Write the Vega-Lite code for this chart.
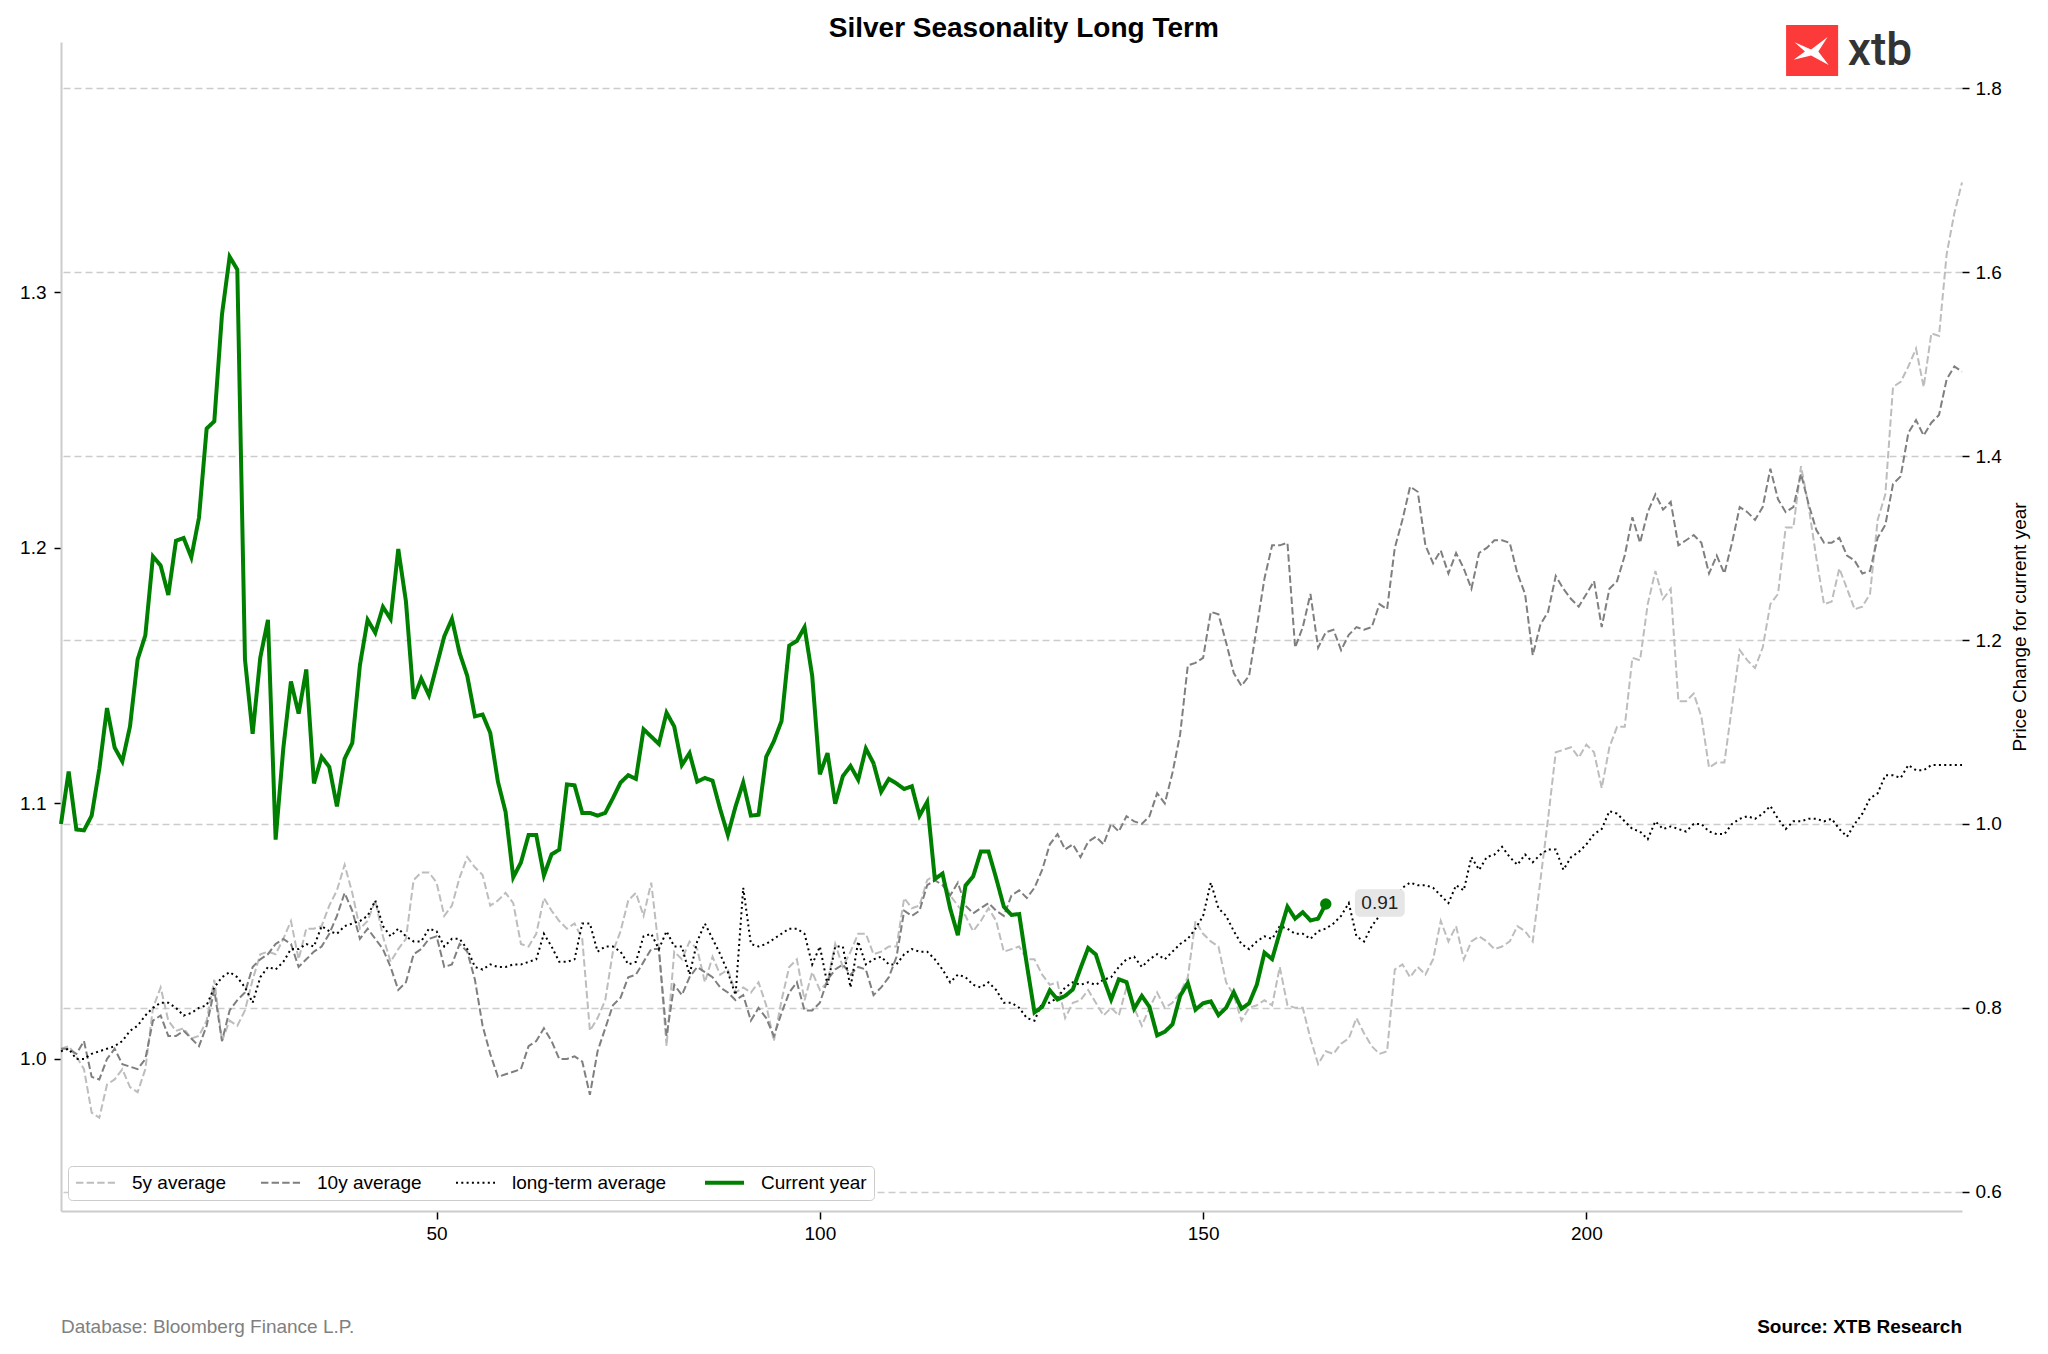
{
  "$schema": "https://vega.github.io/schema/vega-lite/v6.json",
  "width": 1901,
  "height": 1169,
  "autosize": "none",
  "padding": {"left": 61, "top": 42, "right": 86, "bottom": 143},
  "background": "white",
  "config": {
    "font": "Liberation Sans",
    "view": {"stroke": null},
    "axis": {
      "labelFont": "Liberation Sans", "labelFontSize": 19, "labelColor": "black",
      "tickColor": "black", "tickSize": 7, "tickWidth": 1.5,
      "domainColor": "#cccccc", "domainWidth": 2, "grid": false,
      "titleFont": "Liberation Sans", "titleFontSize": 19, "titleFontWeight": "normal", "titleColor": "black"
    }
  },
  "datasets": {
    "avg": [
      {"d":1,"5y average":1.004,"10y average":1.004,"long-term average":1.003},
      {"d":2,"5y average":1.005,"10y average":1.004,"long-term average":1.004},
      {"d":3,"5y average":1.001,"10y average":1.002,"long-term average":1.000},
      {"d":4,"5y average":0.996,"10y average":1.007,"long-term average":1.000},
      {"d":5,"5y average":0.979,"10y average":0.993,"long-term average":1.002},
      {"d":6,"5y average":0.977,"10y average":0.992,"long-term average":1.003},
      {"d":7,"5y average":0.990,"10y average":1.000,"long-term average":1.004},
      {"d":8,"5y average":0.992,"10y average":1.004,"long-term average":1.005},
      {"d":9,"5y average":0.996,"10y average":0.998,"long-term average":1.007},
      {"d":10,"5y average":0.989,"10y average":0.997,"long-term average":1.011},
      {"d":11,"5y average":0.987,"10y average":0.996,"long-term average":1.013},
      {"d":12,"5y average":0.996,"10y average":1.000,"long-term average":1.017},
      {"d":13,"5y average":1.020,"10y average":1.015,"long-term average":1.020},
      {"d":14,"5y average":1.028,"10y average":1.017,"long-term average":1.022},
      {"d":15,"5y average":1.015,"10y average":1.009,"long-term average":1.022},
      {"d":16,"5y average":1.011,"10y average":1.009,"long-term average":1.020},
      {"d":17,"5y average":1.012,"10y average":1.011,"long-term average":1.017},
      {"d":18,"5y average":1.008,"10y average":1.008,"long-term average":1.018},
      {"d":19,"5y average":1.009,"10y average":1.005,"long-term average":1.020},
      {"d":20,"5y average":1.015,"10y average":1.013,"long-term average":1.021},
      {"d":21,"5y average":1.031,"10y average":1.027,"long-term average":1.028},
      {"d":22,"5y average":1.007,"10y average":1.007,"long-term average":1.032},
      {"d":23,"5y average":1.015,"10y average":1.019,"long-term average":1.034},
      {"d":24,"5y average":1.013,"10y average":1.023,"long-term average":1.032},
      {"d":25,"5y average":1.019,"10y average":1.026,"long-term average":1.028},
      {"d":26,"5y average":1.031,"10y average":1.036,"long-term average":1.022},
      {"d":27,"5y average":1.041,"10y average":1.039,"long-term average":1.032},
      {"d":28,"5y average":1.042,"10y average":1.041,"long-term average":1.036},
      {"d":29,"5y average":1.041,"10y average":1.045,"long-term average":1.035},
      {"d":30,"5y average":1.047,"10y average":1.047,"long-term average":1.038},
      {"d":31,"5y average":1.054,"10y average":1.045,"long-term average":1.043},
      {"d":32,"5y average":1.039,"10y average":1.036,"long-term average":1.043},
      {"d":33,"5y average":1.051,"10y average":1.039,"long-term average":1.045},
      {"d":34,"5y average":1.051,"10y average":1.042,"long-term average":1.044},
      {"d":35,"5y average":1.052,"10y average":1.044,"long-term average":1.052},
      {"d":36,"5y average":1.060,"10y average":1.049,"long-term average":1.050},
      {"d":37,"5y average":1.066,"10y average":1.056,"long-term average":1.049},
      {"d":38,"5y average":1.076,"10y average":1.065,"long-term average":1.052},
      {"d":39,"5y average":1.065,"10y average":1.058,"long-term average":1.053},
      {"d":40,"5y average":1.051,"10y average":1.047,"long-term average":1.054},
      {"d":41,"5y average":1.054,"10y average":1.051,"long-term average":1.056},
      {"d":42,"5y average":1.062,"10y average":1.047,"long-term average":1.062},
      {"d":43,"5y average":1.048,"10y average":1.043,"long-term average":1.052},
      {"d":44,"5y average":1.038,"10y average":1.036,"long-term average":1.048},
      {"d":45,"5y average":1.043,"10y average":1.027,"long-term average":1.051},
      {"d":46,"5y average":1.047,"10y average":1.030,"long-term average":1.048},
      {"d":47,"5y average":1.070,"10y average":1.041,"long-term average":1.046},
      {"d":48,"5y average":1.073,"10y average":1.043,"long-term average":1.046},
      {"d":49,"5y average":1.073,"10y average":1.047,"long-term average":1.051},
      {"d":50,"5y average":1.069,"10y average":1.048,"long-term average":1.050},
      {"d":51,"5y average":1.056,"10y average":1.036,"long-term average":1.044},
      {"d":52,"5y average":1.060,"10y average":1.037,"long-term average":1.047},
      {"d":53,"5y average":1.071,"10y average":1.045,"long-term average":1.047},
      {"d":54,"5y average":1.079,"10y average":1.042,"long-term average":1.043},
      {"d":55,"5y average":1.075,"10y average":1.031,"long-term average":1.036},
      {"d":56,"5y average":1.072,"10y average":1.013,"long-term average":1.035},
      {"d":57,"5y average":1.060,"10y average":1.002,"long-term average":1.037},
      {"d":58,"5y average":1.062,"10y average":0.993,"long-term average":1.036},
      {"d":59,"5y average":1.065,"10y average":0.994,"long-term average":1.036},
      {"d":60,"5y average":1.061,"10y average":0.995,"long-term average":1.037},
      {"d":61,"5y average":1.045,"10y average":0.996,"long-term average":1.037},
      {"d":62,"5y average":1.044,"10y average":1.005,"long-term average":1.038},
      {"d":63,"5y average":1.049,"10y average":1.007,"long-term average":1.039},
      {"d":64,"5y average":1.063,"10y average":1.012,"long-term average":1.049},
      {"d":65,"5y average":1.058,"10y average":1.007,"long-term average":1.044},
      {"d":66,"5y average":1.054,"10y average":1.000,"long-term average":1.038},
      {"d":67,"5y average":1.051,"10y average":1.000,"long-term average":1.038},
      {"d":68,"5y average":1.053,"10y average":1.001,"long-term average":1.039},
      {"d":69,"5y average":1.047,"10y average":0.999,"long-term average":1.053},
      {"d":70,"5y average":1.011,"10y average":0.986,"long-term average":1.053},
      {"d":71,"5y average":1.016,"10y average":1.003,"long-term average":1.042},
      {"d":72,"5y average":1.023,"10y average":1.012,"long-term average":1.044},
      {"d":73,"5y average":1.042,"10y average":1.021,"long-term average":1.044},
      {"d":74,"5y average":1.050,"10y average":1.024,"long-term average":1.042},
      {"d":75,"5y average":1.062,"10y average":1.032,"long-term average":1.037},
      {"d":76,"5y average":1.065,"10y average":1.033,"long-term average":1.038},
      {"d":77,"5y average":1.056,"10y average":1.038,"long-term average":1.048},
      {"d":78,"5y average":1.069,"10y average":1.043,"long-term average":1.049},
      {"d":79,"5y average":1.043,"10y average":1.043,"long-term average":1.043},
      {"d":80,"5y average":1.005,"10y average":1.009,"long-term average":1.050},
      {"d":81,"5y average":1.042,"10y average":1.029,"long-term average":1.044},
      {"d":82,"5y average":1.039,"10y average":1.025,"long-term average":1.044},
      {"d":83,"5y average":1.046,"10y average":1.032,"long-term average":1.033},
      {"d":84,"5y average":1.043,"10y average":1.036,"long-term average":1.046},
      {"d":85,"5y average":1.030,"10y average":1.034,"long-term average":1.053},
      {"d":86,"5y average":1.040,"10y average":1.032,"long-term average":1.047},
      {"d":87,"5y average":1.033,"10y average":1.028,"long-term average":1.041},
      {"d":88,"5y average":1.035,"10y average":1.026,"long-term average":1.034},
      {"d":89,"5y average":1.026,"10y average":1.023,"long-term average":1.025},
      {"d":90,"5y average":1.028,"10y average":1.025,"long-term average":1.067},
      {"d":91,"5y average":1.026,"10y average":1.015,"long-term average":1.045},
      {"d":92,"5y average":1.030,"10y average":1.020,"long-term average":1.044},
      {"d":93,"5y average":1.021,"10y average":1.016,"long-term average":1.045},
      {"d":94,"5y average":1.007,"10y average":1.009,"long-term average":1.047},
      {"d":95,"5y average":1.023,"10y average":1.018,"long-term average":1.049},
      {"d":96,"5y average":1.036,"10y average":1.026,"long-term average":1.051},
      {"d":97,"5y average":1.039,"10y average":1.030,"long-term average":1.051},
      {"d":98,"5y average":1.023,"10y average":1.019,"long-term average":1.049},
      {"d":99,"5y average":1.034,"10y average":1.019,"long-term average":1.037},
      {"d":100,"5y average":1.027,"10y average":1.022,"long-term average":1.044},
      {"d":101,"5y average":1.030,"10y average":1.031,"long-term average":1.029},
      {"d":102,"5y average":1.045,"10y average":1.035,"long-term average":1.044},
      {"d":103,"5y average":1.036,"10y average":1.037,"long-term average":1.044},
      {"d":104,"5y average":1.042,"10y average":1.033,"long-term average":1.028},
      {"d":105,"5y average":1.049,"10y average":1.036,"long-term average":1.046},
      {"d":106,"5y average":1.049,"10y average":1.035,"long-term average":1.037},
      {"d":107,"5y average":1.041,"10y average":1.025,"long-term average":1.039},
      {"d":108,"5y average":1.042,"10y average":1.028,"long-term average":1.040},
      {"d":109,"5y average":1.044,"10y average":1.032,"long-term average":1.037},
      {"d":110,"5y average":1.044,"10y average":1.040,"long-term average":1.037},
      {"d":111,"5y average":1.063,"10y average":1.058,"long-term average":1.041},
      {"d":112,"5y average":1.059,"10y average":1.056,"long-term average":1.043},
      {"d":113,"5y average":1.060,"10y average":1.058,"long-term average":1.042},
      {"d":114,"5y average":1.070,"10y average":1.068,"long-term average":1.042},
      {"d":115,"5y average":1.072,"10y average":1.070,"long-term average":1.039},
      {"d":116,"5y average":1.071,"10y average":1.068,"long-term average":1.035},
      {"d":117,"5y average":1.064,"10y average":1.064,"long-term average":1.030},
      {"d":118,"5y average":1.060,"10y average":1.069,"long-term average":1.033},
      {"d":119,"5y average":1.056,"10y average":1.060,"long-term average":1.032},
      {"d":120,"5y average":1.050,"10y average":1.057,"long-term average":1.029},
      {"d":121,"5y average":1.054,"10y average":1.059,"long-term average":1.028},
      {"d":122,"5y average":1.059,"10y average":1.061,"long-term average":1.030},
      {"d":123,"5y average":1.054,"10y average":1.058,"long-term average":1.027},
      {"d":124,"5y average":1.042,"10y average":1.056,"long-term average":1.022},
      {"d":125,"5y average":1.043,"10y average":1.064,"long-term average":1.022},
      {"d":126,"5y average":1.044,"10y average":1.066,"long-term average":1.020},
      {"d":127,"5y average":1.039,"10y average":1.063,"long-term average":1.016},
      {"d":128,"5y average":1.039,"10y average":1.067,"long-term average":1.015},
      {"d":129,"5y average":1.033,"10y average":1.074,"long-term average":1.022},
      {"d":130,"5y average":1.029,"10y average":1.084,"long-term average":1.022},
      {"d":131,"5y average":1.030,"10y average":1.088,"long-term average":1.024},
      {"d":132,"5y average":1.016,"10y average":1.082,"long-term average":1.028},
      {"d":133,"5y average":1.022,"10y average":1.084,"long-term average":1.030},
      {"d":134,"5y average":1.023,"10y average":1.079,"long-term average":1.029},
      {"d":135,"5y average":1.027,"10y average":1.085,"long-term average":1.030},
      {"d":136,"5y average":1.022,"10y average":1.087,"long-term average":1.029},
      {"d":137,"5y average":1.017,"10y average":1.084,"long-term average":1.031},
      {"d":138,"5y average":1.020,"10y average":1.092,"long-term average":1.032},
      {"d":139,"5y average":1.017,"10y average":1.089,"long-term average":1.036},
      {"d":140,"5y average":1.028,"10y average":1.095,"long-term average":1.039},
      {"d":141,"5y average":1.020,"10y average":1.093,"long-term average":1.040},
      {"d":142,"5y average":1.013,"10y average":1.092,"long-term average":1.036},
      {"d":143,"5y average":1.020,"10y average":1.095,"long-term average":1.039},
      {"d":144,"5y average":1.026,"10y average":1.104,"long-term average":1.041},
      {"d":145,"5y average":1.020,"10y average":1.100,"long-term average":1.039},
      {"d":146,"5y average":1.022,"10y average":1.112,"long-term average":1.042},
      {"d":147,"5y average":1.026,"10y average":1.127,"long-term average":1.045},
      {"d":148,"5y average":1.032,"10y average":1.154,"long-term average":1.047},
      {"d":149,"5y average":1.054,"10y average":1.155,"long-term average":1.051},
      {"d":150,"5y average":1.049,"10y average":1.157,"long-term average":1.056},
      {"d":151,"5y average":1.046,"10y average":1.175,"long-term average":1.069},
      {"d":152,"5y average":1.044,"10y average":1.174,"long-term average":1.059},
      {"d":153,"5y average":1.030,"10y average":1.163,"long-term average":1.056},
      {"d":154,"5y average":1.025,"10y average":1.151,"long-term average":1.050},
      {"d":155,"5y average":1.015,"10y average":1.146,"long-term average":1.045},
      {"d":156,"5y average":1.020,"10y average":1.150,"long-term average":1.043},
      {"d":157,"5y average":1.021,"10y average":1.169,"long-term average":1.046},
      {"d":158,"5y average":1.023,"10y average":1.188,"long-term average":1.048},
      {"d":159,"5y average":1.021,"10y average":1.201,"long-term average":1.047},
      {"d":160,"5y average":1.036,"10y average":1.201,"long-term average":1.052},
      {"d":161,"5y average":1.021,"10y average":1.202,"long-term average":1.051},
      {"d":162,"5y average":1.020,"10y average":1.161,"long-term average":1.049},
      {"d":163,"5y average":1.020,"10y average":1.169,"long-term average":1.049},
      {"d":164,"5y average":1.008,"10y average":1.182,"long-term average":1.047},
      {"d":165,"5y average":0.998,"10y average":1.161,"long-term average":1.050},
      {"d":166,"5y average":1.003,"10y average":1.167,"long-term average":1.051},
      {"d":167,"5y average":1.002,"10y average":1.168,"long-term average":1.053},
      {"d":168,"5y average":1.006,"10y average":1.160,"long-term average":1.056},
      {"d":169,"5y average":1.008,"10y average":1.166,"long-term average":1.061},
      {"d":170,"5y average":1.016,"10y average":1.169,"long-term average":1.048},
      {"d":171,"5y average":1.010,"10y average":1.168,"long-term average":1.046},
      {"d":172,"5y average":1.005,"10y average":1.169,"long-term average":1.052},
      {"d":173,"5y average":1.002,"10y average":1.178,"long-term average":1.056},
      {"d":174,"5y average":1.003,"10y average":1.176,"long-term average":1.058},
      {"d":175,"5y average":1.035,"10y average":1.200,"long-term average":1.062},
      {"d":176,"5y average":1.037,"10y average":1.211,"long-term average":1.067},
      {"d":177,"5y average":1.032,"10y average":1.224,"long-term average":1.069},
      {"d":178,"5y average":1.036,"10y average":1.222,"long-term average":1.068},
      {"d":179,"5y average":1.033,"10y average":1.201,"long-term average":1.068},
      {"d":180,"5y average":1.039,"10y average":1.194,"long-term average":1.067},
      {"d":181,"5y average":1.054,"10y average":1.199,"long-term average":1.064},
      {"d":182,"5y average":1.046,"10y average":1.190,"long-term average":1.061},
      {"d":183,"5y average":1.052,"10y average":1.198,"long-term average":1.068},
      {"d":184,"5y average":1.039,"10y average":1.192,"long-term average":1.066},
      {"d":185,"5y average":1.046,"10y average":1.184,"long-term average":1.079},
      {"d":186,"5y average":1.048,"10y average":1.198,"long-term average":1.074},
      {"d":187,"5y average":1.046,"10y average":1.200,"long-term average":1.079},
      {"d":188,"5y average":1.043,"10y average":1.203,"long-term average":1.080},
      {"d":189,"5y average":1.044,"10y average":1.203,"long-term average":1.083},
      {"d":190,"5y average":1.046,"10y average":1.202,"long-term average":1.079},
      {"d":191,"5y average":1.052,"10y average":1.190,"long-term average":1.076},
      {"d":192,"5y average":1.050,"10y average":1.182,"long-term average":1.080},
      {"d":193,"5y average":1.046,"10y average":1.158,"long-term average":1.077},
      {"d":194,"5y average":1.070,"10y average":1.170,"long-term average":1.080},
      {"d":195,"5y average":1.094,"10y average":1.175,"long-term average":1.082},
      {"d":196,"5y average":1.120,"10y average":1.189,"long-term average":1.082},
      {"d":197,"5y average":1.121,"10y average":1.184,"long-term average":1.074},
      {"d":198,"5y average":1.122,"10y average":1.180,"long-term average":1.079},
      {"d":199,"5y average":1.118,"10y average":1.177,"long-term average":1.081},
      {"d":200,"5y average":1.123,"10y average":1.182,"long-term average":1.084},
      {"d":201,"5y average":1.120,"10y average":1.187,"long-term average":1.088},
      {"d":202,"5y average":1.106,"10y average":1.169,"long-term average":1.090},
      {"d":203,"5y average":1.122,"10y average":1.184,"long-term average":1.097},
      {"d":204,"5y average":1.130,"10y average":1.187,"long-term average":1.096},
      {"d":205,"5y average":1.130,"10y average":1.197,"long-term average":1.093},
      {"d":206,"5y average":1.157,"10y average":1.212,"long-term average":1.090},
      {"d":207,"5y average":1.156,"10y average":1.202,"long-term average":1.089},
      {"d":208,"5y average":1.178,"10y average":1.214,"long-term average":1.086},
      {"d":209,"5y average":1.191,"10y average":1.221,"long-term average":1.093},
      {"d":210,"5y average":1.180,"10y average":1.215,"long-term average":1.090},
      {"d":211,"5y average":1.184,"10y average":1.218,"long-term average":1.091},
      {"d":212,"5y average":1.140,"10y average":1.201,"long-term average":1.090},
      {"d":213,"5y average":1.140,"10y average":1.203,"long-term average":1.089},
      {"d":214,"5y average":1.143,"10y average":1.205,"long-term average":1.092},
      {"d":215,"5y average":1.134,"10y average":1.202,"long-term average":1.092},
      {"d":216,"5y average":1.114,"10y average":1.190,"long-term average":1.089},
      {"d":217,"5y average":1.116,"10y average":1.197,"long-term average":1.088},
      {"d":218,"5y average":1.116,"10y average":1.190,"long-term average":1.088},
      {"d":219,"5y average":1.138,"10y average":1.202,"long-term average":1.092},
      {"d":220,"5y average":1.160,"10y average":1.216,"long-term average":1.094},
      {"d":221,"5y average":1.156,"10y average":1.214,"long-term average":1.095},
      {"d":222,"5y average":1.153,"10y average":1.211,"long-term average":1.094},
      {"d":223,"5y average":1.161,"10y average":1.216,"long-term average":1.096},
      {"d":224,"5y average":1.178,"10y average":1.231,"long-term average":1.099},
      {"d":225,"5y average":1.182,"10y average":1.219,"long-term average":1.094},
      {"d":226,"5y average":1.208,"10y average":1.214,"long-term average":1.090},
      {"d":227,"5y average":1.208,"10y average":1.216,"long-term average":1.093},
      {"d":228,"5y average":1.232,"10y average":1.229,"long-term average":1.093},
      {"d":229,"5y average":1.216,"10y average":1.217,"long-term average":1.094},
      {"d":230,"5y average":1.196,"10y average":1.207,"long-term average":1.094},
      {"d":231,"5y average":1.178,"10y average":1.202,"long-term average":1.093},
      {"d":232,"5y average":1.179,"10y average":1.202,"long-term average":1.094},
      {"d":233,"5y average":1.192,"10y average":1.204,"long-term average":1.090},
      {"d":234,"5y average":1.184,"10y average":1.197,"long-term average":1.087},
      {"d":235,"5y average":1.176,"10y average":1.195,"long-term average":1.092},
      {"d":236,"5y average":1.177,"10y average":1.190,"long-term average":1.096},
      {"d":237,"5y average":1.182,"10y average":1.191,"long-term average":1.102},
      {"d":238,"5y average":1.211,"10y average":1.204,"long-term average":1.104},
      {"d":239,"5y average":1.221,"10y average":1.209,"long-term average":1.111},
      {"d":240,"5y average":1.263,"10y average":1.225,"long-term average":1.111},
      {"d":241,"5y average":1.265,"10y average":1.228,"long-term average":1.110},
      {"d":242,"5y average":1.271,"10y average":1.245,"long-term average":1.115},
      {"d":243,"5y average":1.278,"10y average":1.250,"long-term average":1.113},
      {"d":244,"5y average":1.263,"10y average":1.244,"long-term average":1.113},
      {"d":245,"5y average":1.284,"10y average":1.249,"long-term average":1.115},
      {"d":246,"5y average":1.283,"10y average":1.252,"long-term average":1.115},
      {"d":247,"5y average":1.315,"10y average":1.266,"long-term average":1.115},
      {"d":248,"5y average":1.331,"10y average":1.271,"long-term average":1.115},
      {"d":249,"5y average":1.343,"10y average":1.269,"long-term average":1.115}
    ],
    "cur": [
      {"d":1,"cur":1.000},{"d":2,"cur":1.057},{"d":3,"cur":0.994},{"d":4,"cur":0.993},{"d":5,"cur":1.009},
      {"d":6,"cur":1.060},{"d":7,"cur":1.126},{"d":8,"cur":1.083},{"d":9,"cur":1.068},{"d":10,"cur":1.106},
      {"d":11,"cur":1.179},{"d":12,"cur":1.205},{"d":13,"cur":1.291},{"d":14,"cur":1.281},{"d":15,"cur":1.249},
      {"d":16,"cur":1.308},{"d":17,"cur":1.311},{"d":18,"cur":1.290},{"d":19,"cur":1.333},{"d":20,"cur":1.430},
      {"d":21,"cur":1.438},{"d":22,"cur":1.554},{"d":23,"cur":1.617},{"d":24,"cur":1.603},{"d":25,"cur":1.179},
      {"d":26,"cur":1.098},{"d":27,"cur":1.181},{"d":28,"cur":1.222},{"d":29,"cur":0.983},{"d":30,"cur":1.082},
      {"d":31,"cur":1.155},{"d":32,"cur":1.120},{"d":33,"cur":1.168},{"d":34,"cur":1.044},{"d":35,"cur":1.073},
      {"d":36,"cur":1.062},{"d":37,"cur":1.019},{"d":38,"cur":1.071},{"d":39,"cur":1.088},{"d":40,"cur":1.173},
      {"d":41,"cur":1.222},{"d":42,"cur":1.208},{"d":43,"cur":1.236},{"d":44,"cur":1.223},{"d":45,"cur":1.299},
      {"d":46,"cur":1.242},{"d":47,"cur":1.136},{"d":48,"cur":1.158},{"d":49,"cur":1.140},{"d":50,"cur":1.172},
      {"d":51,"cur":1.204},{"d":52,"cur":1.223},{"d":53,"cur":1.186},{"d":54,"cur":1.161},{"d":55,"cur":1.117},
      {"d":56,"cur":1.119},{"d":57,"cur":1.099},{"d":58,"cur":1.046},{"d":59,"cur":1.013},{"d":60,"cur":0.942},
      {"d":61,"cur":0.958},{"d":62,"cur":0.988},{"d":63,"cur":0.988},{"d":64,"cur":0.944},{"d":65,"cur":0.967},
      {"d":66,"cur":0.972},{"d":67,"cur":1.043},{"d":68,"cur":1.042},{"d":69,"cur":1.012},{"d":70,"cur":1.012},
      {"d":71,"cur":1.009},{"d":72,"cur":1.012},{"d":73,"cur":1.028},{"d":74,"cur":1.045},{"d":75,"cur":1.053},
      {"d":76,"cur":1.049},{"d":77,"cur":1.103},{"d":78,"cur":1.095},{"d":79,"cur":1.087},{"d":80,"cur":1.121},
      {"d":81,"cur":1.106},{"d":82,"cur":1.064},{"d":83,"cur":1.077},{"d":84,"cur":1.046},{"d":85,"cur":1.050},
      {"d":86,"cur":1.047},{"d":87,"cur":1.016},{"d":88,"cur":0.988},{"d":89,"cur":1.019},{"d":90,"cur":1.045},
      {"d":91,"cur":1.009},{"d":92,"cur":1.010},{"d":93,"cur":1.073},{"d":94,"cur":1.090},{"d":95,"cur":1.112},
      {"d":96,"cur":1.194},{"d":97,"cur":1.199},{"d":98,"cur":1.214},{"d":99,"cur":1.161},{"d":100,"cur":1.054},
      {"d":101,"cur":1.077},{"d":102,"cur":1.022},{"d":103,"cur":1.052},{"d":104,"cur":1.063},{"d":105,"cur":1.048},
      {"d":106,"cur":1.082},{"d":107,"cur":1.066},{"d":108,"cur":1.035},{"d":109,"cur":1.049},{"d":110,"cur":1.044},
      {"d":111,"cur":1.038},{"d":112,"cur":1.041},{"d":113,"cur":1.009},{"d":114,"cur":1.024},{"d":115,"cur":0.940},
      {"d":116,"cur":0.946},{"d":117,"cur":0.908},{"d":118,"cur":0.879},{"d":119,"cur":0.933},{"d":120,"cur":0.943},
      {"d":121,"cur":0.970},{"d":122,"cur":0.970},{"d":123,"cur":0.941},{"d":124,"cur":0.910},{"d":125,"cur":0.901},
      {"d":126,"cur":0.902},{"d":127,"cur":0.847},{"d":128,"cur":0.795},{"d":129,"cur":0.801},{"d":130,"cur":0.819},
      {"d":131,"cur":0.809},{"d":132,"cur":0.813},{"d":133,"cur":0.820},{"d":134,"cur":0.843},{"d":135,"cur":0.865},
      {"d":136,"cur":0.858},{"d":137,"cur":0.832},{"d":138,"cur":0.809},{"d":139,"cur":0.831},{"d":140,"cur":0.828},
      {"d":141,"cur":0.799},{"d":142,"cur":0.813},{"d":143,"cur":0.801},{"d":144,"cur":0.770},{"d":145,"cur":0.774},
      {"d":146,"cur":0.782},{"d":147,"cur":0.813},{"d":148,"cur":0.827},{"d":149,"cur":0.798},{"d":150,"cur":0.805},
      {"d":151,"cur":0.807},{"d":152,"cur":0.792},{"d":153,"cur":0.800},{"d":154,"cur":0.817},{"d":155,"cur":0.799},
      {"d":156,"cur":0.805},{"d":157,"cur":0.825},{"d":158,"cur":0.860},{"d":159,"cur":0.853},{"d":160,"cur":0.882},
      {"d":161,"cur":0.910},{"d":162,"cur":0.897},{"d":163,"cur":0.904},{"d":164,"cur":0.895},{"d":165,"cur":0.897},
      {"d":166,"cur":0.913}
    ]
  },
  "layer": [
    {
      "data": {"name": "avg"},
      "transform": [
        {"fold": ["5y average", "10y average", "long-term average"], "as": ["series", "value"]}
      ],
      "mark": {"type": "line", "strokeWidth": 2, "strokeCap": "butt"},
      "encoding": {
        "x": {
          "field": "d", "type": "quantitative",
          "scale": {"domain": [1, 249], "nice": false, "zero": false},
          "axis": {"orient": "bottom", "values": [50, 100, 150, 200], "title": null, "tickSize": 8, "labelPadding": 5}
        },
        "y": {
          "field": "value", "type": "quantitative",
          "scale": {"domain": [0.9405, 1.398], "nice": false, "zero": false},
          "axis": {"orient": "left", "values": [1.0, 1.1, 1.2, 1.3], "format": ".1f", "title": null, "labelPadding": 8}
        },
        "color": {
          "field": "series", "type": "nominal",
          "scale": {
            "domain": ["5y average", "10y average", "long-term average", "Current year"],
            "range": ["#bdbdbd", "#7f7f7f", "#000000", "#008000"]
          },
          "legend": {
            "orient": "none", "legendX": 7, "legendY": 1124,
            "direction": "horizontal", "columns": 4, "title": null,
            "symbolType": "stroke", "symbolSize": 1521, "symbolStrokeWidth": 2, "symbolOffset": 11,
            "labelFont": "Liberation Sans", "labelFontSize": 19, "labelColor": "black", "labelLimit": 300,
            "labelOffset": 27, "columnPadding": 30, "padding": 7,
            "fillColor": "white", "strokeColor": "#cccccc", "cornerRadius": 4,
            "encode": {
              "symbols": {"update": {"strokeWidth": {"signal": "datum.value === 'Current year' ? 4 : 2"}}}
            }
          }
        },
        "strokeDash": {
          "field": "series", "type": "nominal",
          "scale": {
            "domain": ["5y average", "10y average", "long-term average", "Current year"],
            "range": [[7.4, 3.2], [7.4, 3.2], [2, 3.3], [1, 0]]
          },
          "legend": {
            "orient": "none", "legendX": 7, "legendY": 1124,
            "direction": "horizontal", "columns": 4, "title": null,
            "symbolType": "stroke", "symbolSize": 1521, "symbolStrokeWidth": 2, "symbolOffset": 11,
            "labelFont": "Liberation Sans", "labelFontSize": 19, "labelColor": "black", "labelLimit": 300,
            "labelOffset": 27, "columnPadding": 30, "padding": 7,
            "fillColor": "white", "strokeColor": "#cccccc", "cornerRadius": 4,
            "encode": {
              "symbols": {"update": {"strokeWidth": {"signal": "datum.value === 'Current year' ? 4 : 2"}}}
            }
          }
        }
      }
    },
    {
      "data": {"name": "cur"},
      "mark": {"type": "line", "strokeWidth": 4},
      "encoding": {
        "x": {"field": "d", "type": "quantitative", "axis": {"orient": "bottom", "values": [50, 100, 150, 200], "title": null, "tickSize": 8, "labelPadding": 5}},
        "y": {
          "field": "cur", "type": "quantitative",
          "scale": {"domain": [0.579, 1.8505], "nice": false, "zero": false},
          "axis": {
            "orient": "right", "values": [0.6, 0.8, 1.0, 1.2, 1.4, 1.6, 1.8], "format": ".1f",
            "domain": false, "labelPadding": 6,
            "grid": true, "gridColor": "#cccccc", "gridDash": [7, 4], "gridWidth": 1.6,
            "title": "Price Change for current year", "titlePadding": 9, "titleAngle": 270, "titleBaseline": "top"
          }
        },
        "color": {"datum": "Current year", "type": "nominal", "legend": null},
        "strokeDash": {"datum": "Current year", "type": "nominal", "legend": null}
      }
    },
    {
      "data": {"name": "cur"},
      "transform": [{"filter": {"field": "d", "equal": 166}}],
      "mark": {"type": "point", "filled": true, "size": 130, "color": "#008000", "opacity": 1},
      "encoding": {
        "x": {"field": "d", "type": "quantitative", "axis": {"orient": "bottom", "values": [50, 100, 150, 200], "title": null, "tickSize": 8, "labelPadding": 5}},
        "y": {"field": "cur", "type": "quantitative", "scale": {"domain": [0.579, 1.8505], "nice": false, "zero": false}, "axis": null}
      }
    },
    {
      "data": {"values": [{}]},
      "mark": {"type": "rect", "fill": "#e6e6e6", "cornerRadius": 5},
      "encoding": {
        "x": {"datum": 169.8, "type": "quantitative", "axis": {"orient": "bottom", "values": [50, 100, 150, 200], "title": null, "tickSize": 8, "labelPadding": 5}},
        "x2": {"datum": 176.3},
        "y": {"datum": 0.929, "type": "quantitative", "scale": {"domain": [0.579, 1.8505], "nice": false, "zero": false}, "axis": null},
        "y2": {"datum": 0.899}
      }
    },
    {
      "data": {"values": [{}]},
      "mark": {"type": "text", "text": "0.91", "font": "Liberation Sans", "fontSize": 19, "color": "#222222", "align": "center", "baseline": "middle"},
      "encoding": {
        "x": {"datum": 173.05, "type": "quantitative", "axis": {"orient": "bottom", "values": [50, 100, 150, 200], "title": null, "tickSize": 8, "labelPadding": 5}},
        "y": {"datum": 0.914, "type": "quantitative", "scale": {"domain": [0.579, 1.8505], "nice": false, "zero": false}, "axis": null}
      }
    },
    {
      "data": {"values": [{}]},
      "mark": {"type": "rect", "fill": "#fd3a3a"},
      "encoding": {
        "x": {"datum": 226.05, "type": "quantitative", "axis": {"orient": "bottom", "values": [50, 100, 150, 200], "title": null, "tickSize": 8, "labelPadding": 5}},
        "x2": {"datum": 232.84},
        "y": {"datum": 1.869, "type": "quantitative", "scale": {"domain": [0.579, 1.8505], "nice": false, "zero": false}, "axis": null},
        "y2": {"datum": 1.8135}
      }
    },
    {
      "data": {"values": [{}]},
      "mark": {
        "type": "point", "filled": true, "color": "white", "opacity": 1, "size": 1700,
        "shape": "M-0.85,-0.4 L-0.05,-0.05 L0.75,-0.65 L0.3,0.05 L0.8,0.7 L-0.05,0.25 L-0.9,0.45 L-0.35,0.05 Z"
      },
      "encoding": {
        "x": {"datum": 229.45, "type": "quantitative", "axis": {"orient": "bottom", "values": [50, 100, 150, 200], "title": null, "tickSize": 8, "labelPadding": 5}},
        "y": {"datum": 1.8413, "type": "quantitative", "scale": {"domain": [0.579, 1.8505], "nice": false, "zero": false}, "axis": null}
      }
    },
    {
      "data": {"values": [{}]},
      "mark": {"type": "text", "text": "xtb", "font": "Roboto", "fontSize": 46, "fontWeight": 500, "color": "#333333", "align": "left", "baseline": "alphabetic"},
      "encoding": {
        "x": {"datum": 234.1, "type": "quantitative", "axis": {"orient": "bottom", "values": [50, 100, 150, 200], "title": null, "tickSize": 8, "labelPadding": 5}},
        "y": {"datum": 1.8255, "type": "quantitative", "scale": {"domain": [0.579, 1.8505], "nice": false, "zero": false}, "axis": null}
      }
    },
    {
      "data": {"values": [{}]},
      "mark": {"type": "text", "text": "Silver Seasonality Long Term", "font": "Liberation Sans", "fontSize": 28, "fontWeight": "bold", "color": "black", "align": "center", "baseline": "alphabetic"},
      "encoding": {
        "x": {"datum": 126.6, "type": "quantitative", "axis": {"orient": "bottom", "values": [50, 100, 150, 200], "title": null, "tickSize": 8, "labelPadding": 5}},
        "y": {"datum": 1.8564, "type": "quantitative", "scale": {"domain": [0.579, 1.8505], "nice": false, "zero": false}, "axis": null}
      }
    },
    {
      "data": {"values": [{}]},
      "mark": {"type": "text", "text": "Database: Bloomberg Finance L.P.", "font": "Liberation Sans", "fontSize": 19, "color": "#808080", "align": "left", "baseline": "alphabetic"},
      "encoding": {
        "x": {"datum": 1, "type": "quantitative", "axis": {"orient": "bottom", "values": [50, 100, 150, 200], "title": null, "tickSize": 8, "labelPadding": 5}},
        "y": {"datum": 0.4463, "type": "quantitative", "scale": {"domain": [0.579, 1.8505], "nice": false, "zero": false}, "axis": null}
      }
    },
    {
      "data": {"values": [{}]},
      "mark": {"type": "text", "text": "Source: XTB Research", "font": "Liberation Sans", "fontSize": 19, "fontWeight": "bold", "color": "black", "align": "right", "baseline": "alphabetic"},
      "encoding": {
        "x": {"datum": 249, "type": "quantitative", "axis": {"orient": "bottom", "values": [50, 100, 150, 200], "title": null, "tickSize": 8, "labelPadding": 5}},
        "y": {"datum": 0.4463, "type": "quantitative", "scale": {"domain": [0.579, 1.8505], "nice": false, "zero": false}, "axis": null}
      }
    }
  ],
  "resolve": {"scale": {"y": "independent"}}
}
